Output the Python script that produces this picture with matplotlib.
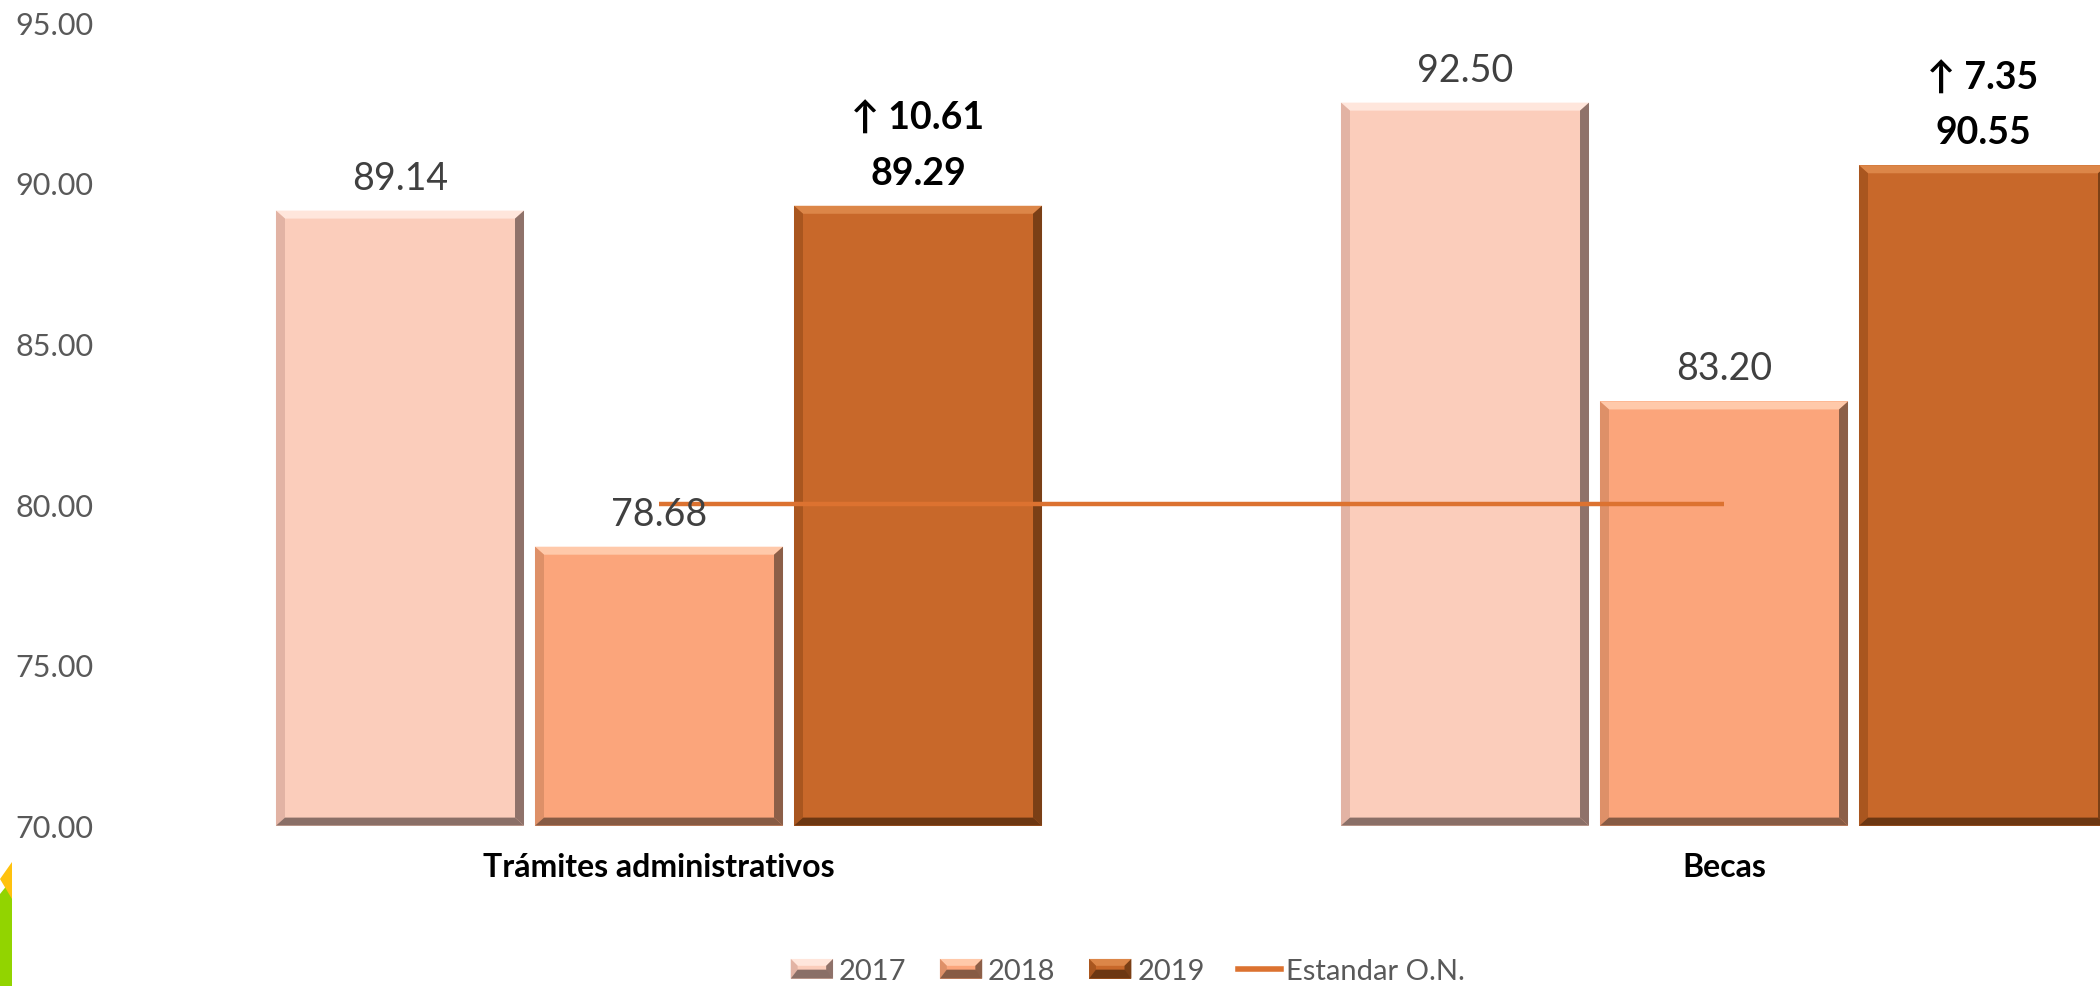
import numpy as np
import matplotlib
matplotlib.use("Agg")
import matplotlib.pyplot as plt
from matplotlib.patches import Polygon, Rectangle, Patch
from matplotlib.lines import Line2D
from matplotlib.legend_handler import HandlerBase

# ---------------- data ----------------
categories = ["Trámites administrativos", "Becas"]
years = ["2017", "2018", "2019"]
values_2017 = [89.14, 92.50]
values_2018 = [78.68, 83.20]
values_2019 = [89.29, 90.55]
standard_on = [80.00, 80.00]
change_2019 = [10.61, 7.35]
y_ticks = [70, 75, 80, 85, 90, 95]
series_label_std = "Estandar O.N."

# ---------------- style ----------------
FONT = ["Lato", "DejaVu Sans"]
plt.rcParams["font.family"] = FONT
face = {"2017": "#FBCDBB", "2018": "#FBA57B", "2019": "#C8682A"}
light = {"2017": "#FFE6DC", "2018": "#FFC9AA", "2019": "#DC8648"}
left_c = {"2017": "#E2B3A4", "2018": "#DE9068", "2019": "#A9561F"}
right_c = {"2017": "#8F726A", "2018": "#8C5F48", "2019": "#7A3F16"}
bottom_c = {"2017": "#8A6F67", "2018": "#875B44", "2019": "#6C3712"}
line_color = "#DC7230"

W, H = 2100, 987
fig = plt.figure(figsize=(W / 100, H / 100), dpi=100)
ax_left, ax_right = 126.5, 2256.5
ax_top, ax_bot = 23.3, 826.6
ax = fig.add_axes([ax_left / W, 1 - ax_bot / H, (ax_right - ax_left) / W, (ax_bot - ax_top) / H])

ymin, ymax = y_ticks[0], y_ticks[-1]
ax.set_xlim(-0.5, len(categories) - 0.5)
ax.set_ylim(ymin, ymax)

x = np.arange(len(categories))
step = 0.2432
width = 0.2329
series = [values_2017, values_2018, values_2019]

# pixel -> data conversion for bevel sizes
px_x = (len(categories)) / (ax_right - ax_left)
px_y = (ymax - ymin) / (ax_bot - ax_top)

for j, (yr, vals) in enumerate(zip(years, series)):
    heights = np.array(vals) - ymin
    bc = ax.bar(x + (j - 1) * step, heights, bottom=ymin, width=width,
                color=face[yr], edgecolor="none", zorder=2, label=yr)
    # bevel overlays derived from each bar's geometry
    for rect in bc:
        x0, y0 = rect.get_x(), rect.get_y()
        w, h = rect.get_width(), rect.get_height()
        x1, y1 = x0 + w, y0 + h
        bx, by = 9 * px_x, 8 * px_y
        polys = [
            ([[x0, y1], [x1, y1], [x1 - bx, y1 - by], [x0 + bx, y1 - by]], light[yr]),
            ([[x0, y0], [x0, y1], [x0 + bx, y1 - by], [x0 + bx, y0 + by]], left_c[yr]),
            ([[x1, y0], [x1, y1], [x1 - bx, y1 - by], [x1 - bx, y0 + by]], right_c[yr]),
            ([[x0, y0], [x1, y0], [x1 - bx, y0 + by], [x0 + bx, y0 + by]], bottom_c[yr]),
        ]
        for pts, c in polys:
            ax.add_patch(Polygon(pts, closed=True, facecolor=c, edgecolor="none", zorder=2.5))

# standard line
ax.plot(x, standard_on, color=line_color, lw=3.2, zorder=3, solid_capstyle="butt")

# data labels
PX = 0.72  # points per pixel
for j, vals in enumerate(series):
    for i, v in enumerate(vals):
        cx = x[i] + (j - 1) * step
        if j == 2:
            ax.annotate(f"{v:.2f}", xy=(cx, v), xytext=(0, 33 * PX), textcoords="offset points",
                        ha="center", va="center", fontsize=27, fontweight="bold", color="black", zorder=5)
            ax.annotate(f"↑ {change_2019[i]:.2f}", xy=(cx, v), xytext=(0, 88 * PX), textcoords="offset points",
                        ha="center", va="center", fontsize=27, fontweight="bold", color="black", zorder=5)
        else:
            ax.annotate(f"{v:.2f}", xy=(cx, v), xytext=(0, 33 * PX), textcoords="offset points",
                        ha="center", va="center", fontsize=27, color="#404040", zorder=5)

# axes styling
for s in ax.spines.values():
    s.set_visible(False)
ax.set_yticks(y_ticks)
ax.set_yticklabels([f"{t:.2f}" for t in y_ticks], fontsize=22, color="#595959")
ax.set_xticks(x)
ax.set_xticklabels(categories, fontsize=23, fontweight="bold", color="black")
ax.tick_params(axis="y", length=0, pad=24)
ax.tick_params(axis="x", length=0, pad=19)


# legend with bevel swatches
class BevelHandler(HandlerBase):
    def create_artists(self, legend, orig_handle, xdescent, ydescent, width, height, fontsize, trans):
        yr = orig_handle.get_label()
        x0, y0 = -xdescent, -ydescent
        x1, y1 = x0 + width, y0 + height
        b = height * 0.35
        arts = [Rectangle((x0, y0), width, height, facecolor=face[yr], edgecolor="none", transform=trans)]
        shapes = [
            ([[x0, y1], [x1, y1], [x1 - b, y1 - b], [x0 + b, y1 - b]], light[yr]),
            ([[x0, y0], [x0, y1], [x0 + b, y1 - b], [x0 + b, y0 + b]], left_c[yr]),
            ([[x1, y0], [x1, y1], [x1 - b, y1 - b], [x1 - b, y0 + b]], right_c[yr]),
            ([[x0, y0], [x1, y0], [x1 - b, y0 + b * 1.3], [x0 + b, y0 + b * 1.3]], bottom_c[yr]),
        ]
        for pts, c in shapes:
            arts.append(Polygon(pts, closed=True, facecolor=c, edgecolor="none", transform=trans))
        return arts


handles = [Patch(facecolor=face[yr], label=yr) for yr in years]
handles.append(Line2D([], [], color=line_color, lw=4, label=series_label_std))
leg = fig.legend(handles=handles, loc="center", bbox_to_anchor=(1128 / W, 1 - 972 / H),
                 ncol=4, frameon=False, fontsize=21, handlelength=1.45, handleheight=0.66,
                 handletextpad=0.2, columnspacing=1.15,
                 handler_map={Patch: BevelHandler()})
for t in leg.get_texts():
    t.set_color("#595959")

# decorative slide corner shapes (bottom left)
fig.patches.append(Polygon([[0, 0], [12 / W, 0], [12 / W, 1 - 880 / H], [0, 1 - 895 / H]],
                           closed=True, transform=fig.transFigure, facecolor="#92D400", edgecolor="none"))
fig.patches.append(Polygon([[0, 1 - 880 / H], [12 / W, 1 - 863 / H], [12 / W, 1 - 900 / H]],
                           closed=True, transform=fig.transFigure, facecolor="#FFC20E", edgecolor="none"))

fig.savefig("out.png", dpi=100, facecolor="white")
